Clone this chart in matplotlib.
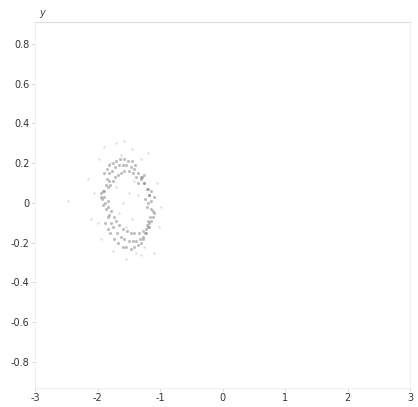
import numpy as np
import matplotlib
matplotlib.use('Agg')
import matplotlib.pyplot as plt

# ring of points
ring_x = [-1.15, -1.21, -1.10, -1.17, -1.24, -1.14, -1.21, -1.17, -1.26, -1.25, -1.20, -1.30,
          -1.29, -1.35, -1.25, -1.35, -1.31, -1.40, -1.41, -1.38, -1.45, -1.47, -1.44, -1.51,
          -1.54, -1.50, -1.57, -1.60, -1.57, -1.64, -1.66, -1.62, -1.70, -1.72, -1.68, -1.76,
          -1.77, -1.72, -1.81, -1.81, -1.76, -1.85, -1.85, -1.80, -1.89, -1.87, -1.82, -1.92,
          -1.89, -1.83, -1.94, -1.89, -1.84, -1.95, -1.88, -1.83, -1.93, -1.86, -1.81, -1.91,
          -1.83, -1.78, -1.88, -1.79, -1.74, -1.84, -1.75, -1.70, -1.80, -1.69, -1.65, -1.73,
          -1.63, -1.59, -1.67, -1.57, -1.53, -1.60, -1.50, -1.47, -1.54, -1.44, -1.41, -1.47,
          -1.38, -1.34, -1.41, -1.32, -1.28, -1.36, -1.27, -1.23, -1.31, -1.23, -1.18, -1.27,
          -1.19, -1.15, -1.24, -1.17, -1.12, -1.21, -1.16, -1.11, -1.20, -1.15, -1.10, -1.20]
ring_y = [0.01, -0.02, 0.03, 0.04, 0.02, 0.06, 0.07, 0.04, 0.10, 0.10, 0.07, 0.13,
          0.13, 0.10, 0.14, 0.15, 0.12, 0.19, 0.17, 0.13, 0.21, 0.18, 0.15, 0.21,
          0.19, 0.16, 0.22, 0.19, 0.16, 0.22, 0.19, 0.15, 0.21, 0.18, 0.14, 0.20,
          0.16, 0.13, 0.19, 0.15, 0.11, 0.17, 0.12, 0.09, 0.15, 0.09, 0.11, 0.06,
          0.06, 0.08, 0.03, 0.03, 0.01, 0.05, 0.00, -0.02, 0.02, -0.03, -0.06, -0.01,
          -0.07, -0.04, -0.10, -0.10, -0.07, -0.13, -0.12, -0.09, -0.15, -0.15, -0.11, -0.18,
          -0.17, -0.13, -0.20, -0.18, -0.14, -0.22, -0.19, -0.15, -0.22, -0.19, -0.15, -0.23,
          -0.19, -0.15, -0.22, -0.18, -0.14, -0.21, -0.17, -0.13, -0.20, -0.15, -0.12, -0.18,
          -0.12, -0.09, -0.15, -0.10, -0.07, -0.11, -0.07, -0.04, -0.09, -0.03, -0.05, 0.00]

# faint scattered points
noise_x = [-2.05, -2.10, -1.98, -1.70, -1.58, -1.45, -1.30, -1.05, -1.02, -1.10, -1.30, -1.55,
           -1.75, -1.95, -2.00, -1.60, -1.50, -1.45, -1.65, -2.48, -1.90, -1.20, -0.98, -2.15,
           -1.62, -1.38, -1.80, -1.25, -1.70, -1.35, -1.55, -1.42]
noise_y = [0.05, -0.08, 0.22, 0.30, 0.31, 0.27, 0.22, 0.10, -0.12, -0.25, -0.26, -0.28,
           -0.24, -0.18, -0.10, 0.00, 0.05, -0.08, -0.05, 0.01, 0.28, 0.25, -0.02, 0.12,
           0.24, -0.25, 0.20, -0.22, 0.08, 0.04, -0.12, 0.11]

xticks = [-3, -2, -1, 0, 1, 2, 3]
yticks = [-0.8, -0.6, -0.4, -0.2, 0, 0.2, 0.4, 0.6, 0.8]
ytick_labels = ['-0.8', '-0.6', '-0.4', '-0.2', '0', '0.2', '0.4', '0.6', '0.8']

plt.rcParams['axes.unicode_minus'] = False
fig = plt.figure(figsize=(4.18, 4.07), dpi=100)
ax = fig.add_axes([0.084, 0.047, 0.897, 0.899])

ax.scatter(noise_x, noise_y, s=3, color='#bbbbbb', alpha=0.5, linewidths=0)
ax.scatter(ring_x, ring_y, s=5, color='#808080', alpha=0.5, linewidths=0)

ax.set_xlim(-3, 3)
ax.set_ylim(-0.93, 0.91)
ax.set_xticks(xticks)
ax.set_yticks(yticks)
ax.set_yticklabels(ytick_labels)
ax.tick_params(labelsize=7, labelcolor='#333333', color='#cccccc', length=2, width=0.6, pad=2)

for s in ax.spines.values():
    s.set_color('#f0f0f0')
    s.set_linewidth(0.8)
ax.spines['top'].set_color('#dddddd')

ax.set_ylabel('y', rotation=0, fontsize=7, style='italic', color='#444444')
ax.yaxis.set_label_coords(0.02, 1.01)

fig.savefig('out.png', dpi=100, facecolor='white')
